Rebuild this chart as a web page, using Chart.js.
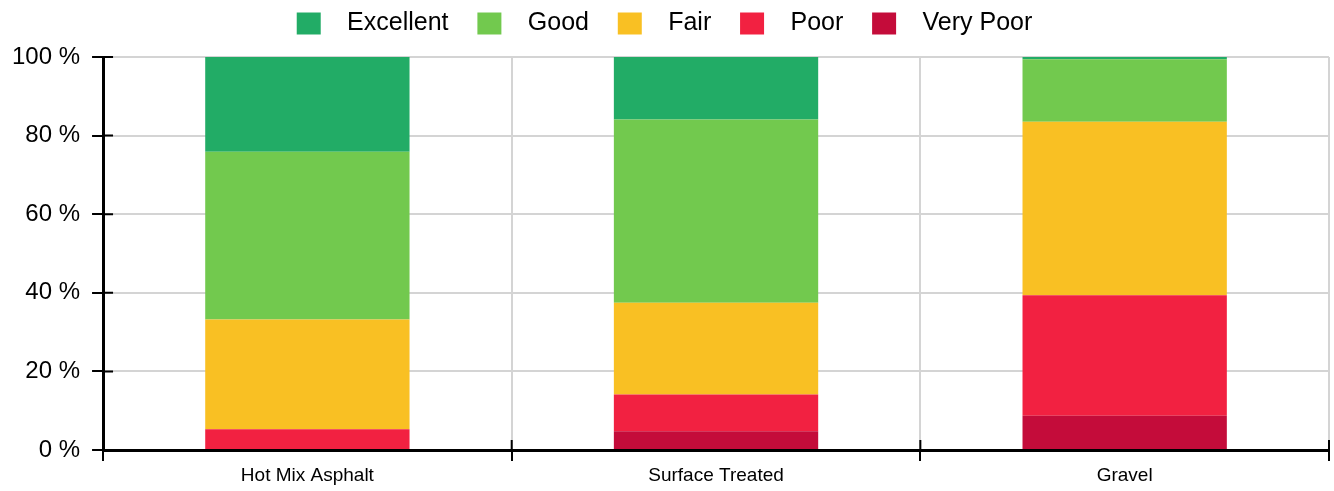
<!DOCTYPE html>
<html>
<head>
<meta charset="utf-8">
<script src="https://cdn.jsdelivr.net/npm/chart.js@4/dist/chart.umd.min.js"></script>
<style>
  html, body { margin: 0; padding: 0; background: #fff; }
  #wrap { width: 1334px; height: 491px; position: relative; }
</style>
</head>
<body>
<div id="wrap"><canvas id="chart"></canvas></div>
<script>
// ── Data ─────────────────────────────────────────────
const categories = ['Hot Mix Asphalt', 'Surface Treated', 'Gravel'];
const veryPoor  = [0,    4.8,  8.7];
const poor      = [5.3,  9.3,  30.7];
const fair      = [27.9, 23.4, 44.1];
const good      = [42.7, 46.6, 15.9];
const excellent = [24.1, 15.9, 0.6];
const yTicks = [0, 20, 40, 60, 80, 100];

const colors = {
  excellent: '#22ac66',
  good: '#72c94e',
  fair: '#f9c023',
  poor: '#f22141',
  veryPoor: '#c40c3a',
};
const FONT = 'Liberation Sans, Arial, sans-serif';

// inner half of the tick marks (they cross the axis lines)
const crossTicks = {
  id: 'crossTicks',
  afterDatasetsDraw(chart) {
    const { ctx, scales: { x, y } } = chart;
    ctx.save();
    ctx.strokeStyle = '#000';
    ctx.lineWidth = 2;
    ctx.beginPath();
    y.ticks.forEach((t, i) => {
      const py = y.getPixelForTick(i);
      ctx.moveTo(x.left, py); ctx.lineTo(x.left + 10, py);
    });
    for (let i = 0; i <= categories.length; i++) {
      const px = i < categories.length ? x.getPixelForTick(i) - (x.width / categories.length) / 2 : x.right;
      ctx.moveTo(px, y.bottom); ctx.lineTo(px, y.bottom - 10);
    }
    ctx.stroke();
    ctx.restore();
  }
};

// a bit more room under the legend
const legendGap = {
  id: 'legendGap',
  beforeInit(chart) {
    const fit = chart.legend.fit;
    chart.legend.fit = function () { fit.call(this); this.height += 11; };
  }
};

const bar = (label, data, color) => ({
  label, data, backgroundColor: color, borderWidth: 0,
  barPercentage: 0.5, categoryPercentage: 1,
});

new Chart(document.getElementById('chart'), {
  type: 'bar',
  data: {
    labels: categories,
    datasets: [
      bar('Very Poor', veryPoor, colors.veryPoor),
      bar('Poor', poor, colors.poor),
      bar('Fair', fair, colors.fair),
      bar('Good', good, colors.good),
      bar('Excellent', excellent, colors.excellent),
    ],
  },
  options: {
    responsive: true, maintainAspectRatio: false, animation: false,
    layout: { padding: { top: 3, right: 5, left: 0, bottom: 0 } },
    plugins: {
      tooltip: { enabled: false },
      legend: {
        reverse: true,
        labels: {
          color: '#000', font: { family: FONT, size: 25 },
          boxWidth: 24, boxHeight: 22, padding: 8,
          generateLabels: chart => Chart.defaults.plugins.legend.labels.generateLabels(chart)
            .map(l => ({ ...l, text: '  ' + l.text + (l.datasetIndex === 0 ? '' : '   '), lineWidth: 0 })),
        },
      },
    },
    scales: {
      x: {
        stacked: true,
        grid: { color: '#d4d4d4', lineWidth: 2, tickColor: '#000', tickLength: 11, offset: true },
        border: { color: '#000', width: 3 },
        ticks: { color: '#000', padding: 5.5, font: { family: FONT, size: 19, lineHeight: 1 } },
      },
      y: {
        stacked: true, min: 0, max: 100,
        afterBuildTicks: s => { s.ticks = yTicks.map(v => ({ value: v })); },
        grid: { color: '#d4d4d4', lineWidth: 2, tickColor: '#000', tickLength: 11 },
        border: { color: '#000', width: 3 },
        ticks: { color: '#000', padding: 12, font: { family: FONT, size: 24 },
                 callback: v => v + ' %' },
      },
    },
  },
  plugins: [crossTicks, legendGap],
});
</script>
</body>
</html>
